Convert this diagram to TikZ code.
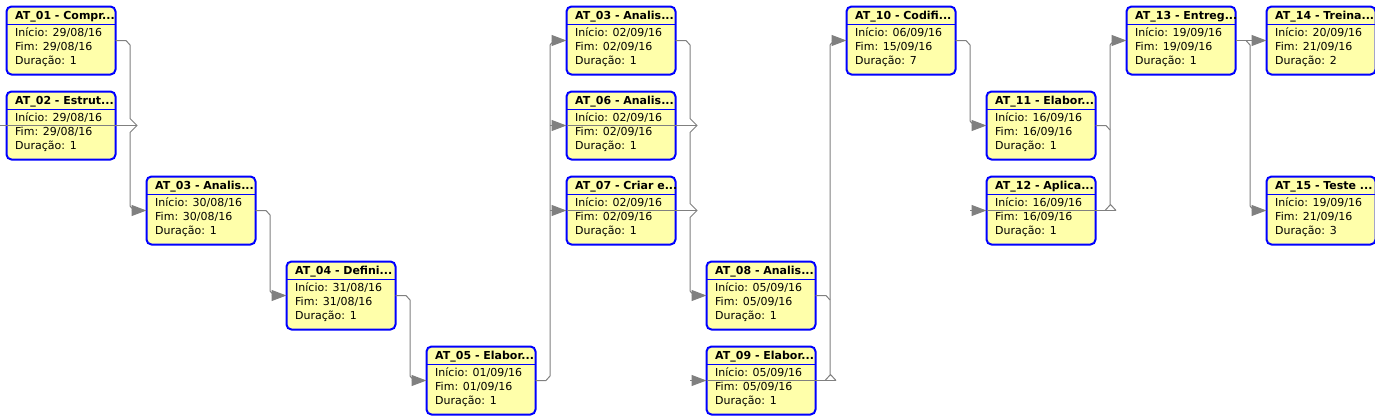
\documentclass[tikz,border=0pt]{standalone}
\usepackage{fontspec}
\setmainfont{DejaVu Sans}
\usetikzlibrary{arrows.meta,calc}
\definecolor{boxfill}{RGB}{255,255,170}
\definecolor{boxblue}{RGB}{0,0,255}
\definecolor{linegray}{RGB}{128,128,128}
\tikzset{
  actbox/.style={draw=boxblue, line width=2pt, fill=boxfill, rounded corners=5pt,
    minimum width=109pt, minimum height=68pt, inner sep=0pt, outer sep=0pt},
  acttitle/.style={anchor=base west, inner sep=0pt, font=\fontsize{11}{13}\selectfont\bfseries},
  acttext/.style={anchor=base west, inner sep=0pt, font=\fontsize{11}{13}\selectfont},
  sepline/.style={draw=boxblue, line width=1pt},
  conn/.style={draw=linegray, line width=1pt},
  arr/.style={conn, -{Triangle[length=15pt,width=11pt]}},
}
\newcommand{\actbox}[7]{%
  \node[actbox] (#1) at ({61+140*#2},{40.5+85*#3}) {};
  \draw[sepline] ($(#1.north west)+(0,17.5)$) -- ($(#1.north east)+(0,17.5)$);
  \node[acttitle] (#1-t) at ($(#1.north west)+(8.5,13)$) {#4};
  \node[acttext] (#1-a) at ($(#1.north west)+(8.5,30.2)$) {Início: #5};
  \node[acttext] (#1-b) at ($(#1.north west)+(8.5,44.2)$) {Fim: #6};
  \node[acttext] (#1-c) at ($(#1.north west)+(8.5,58.2)$) {Duração: #7};
}
\begin{document}
\begin{tikzpicture}[x=1pt,y=-1pt]
\useasboundingbox (0,0) rectangle (1375,415);
\actbox{n01}{0}{0}{AT\_01 - Compr...}{29/08/16}{29/08/16}{1}
\actbox{n02}{0}{1}{AT\_02 - Estrut...}{29/08/16}{29/08/16}{1}
\actbox{n03a}{1}{2}{AT\_03 - Analis...}{30/08/16}{30/08/16}{1}
\actbox{n04}{2}{3}{AT\_04 - Defini...}{31/08/16}{31/08/16}{1}
\actbox{n05}{3}{4}{AT\_05 - Elabor...}{01/09/16}{01/09/16}{1}
\actbox{n03b}{4}{0}{AT\_03 - Analis...}{02/09/16}{02/09/16}{1}
\actbox{n06}{4}{1}{AT\_06 - Analis...}{02/09/16}{02/09/16}{1}
\actbox{n07}{4}{2}{AT\_07 - Criar e...}{02/09/16}{02/09/16}{1}
\actbox{n08}{5}{3}{AT\_08 - Analis...}{05/09/16}{05/09/16}{1}
\actbox{n09}{5}{4}{AT\_09 - Elabor...}{05/09/16}{05/09/16}{1}
\actbox{n10}{6}{0}{AT\_10 - Codifi...}{06/09/16}{15/09/16}{7}
\actbox{n11}{7}{1}{AT\_11 - Elabor...}{16/09/16}{16/09/16}{1}
\actbox{n12}{7}{2}{AT\_12 - Aplica...}{16/09/16}{16/09/16}{1}
\actbox{n13}{8}{0}{AT\_13 - Entreg...}{19/09/16}{19/09/16}{1}
\actbox{n14}{9}{0}{AT\_14 - Treina...}{20/09/16}{21/09/16}{2}
\actbox{n15}{9}{2}{AT\_15 - Teste ...}{19/09/16}{21/09/16}{3}
% connectors
\draw[arr] (n01.east) -- (126,40.5) -- (130,45) -- (130,118.5) -- (137,125.5) -- (130,132.5) -- (130,206) -- (134,210.5) -- (n03a.west);
\draw[conn] (0,125.5) -- (n02.west) -- (n02.east) -- (137,125.5);
\draw[arr] (n03a.east) -- (266,210.5) -- (270,215) -- (270,291) -- (274,295.5) -- (n04.west);
\draw[arr] (n04.east) -- (406,295.5) -- (410,300) -- (410,376) -- (414,380.5) -- (n05.west);
\draw[arr] (n05.east) -- (546,380.5) -- (550,376) -- (550,45) -- (554,40.5) -- (n03b.west);
\draw[arr] (550,125.5) -- (n06.west);
\draw[arr] (550,210.5) -- (n07.west);
\draw[conn] (n06.west) -- (697,125.5);
\draw[conn] (n07.west) -- (697,210.5);
\draw[arr] (n03b.east) -- (686,40.5) -- (690,45) -- (690,118.5) -- (697,125.5) -- (690,132.5) -- (690,203.5) -- (697,210.5) -- (690,217.5) -- (690,291) -- (694,295.5) -- (n08.west);
\draw[arr] (690,380.5) -- (n09.west);
\draw[conn] (n09.west) -- (836,380.5);
\draw[conn] (n08.east) -- (826,295.5) -- (830,300);
\draw[arr] (830,374.5) -- (830,45) -- (834,40.5) -- (n10.west);
\draw[conn] (825,380.5) -- (830.5,374.5) -- (836,380.5);
\draw[arr] (n10.east) -- (966,40.5) -- (970,45) -- (970,121) -- (974,125.5) -- (n11.west);
\draw[arr] (970,210.5) -- (n12.west);
\draw[conn] (n12.west) -- (1116,210.5);
\draw[conn] (n11.east) -- (1106,125.5) -- (1110,130);
\draw[arr] (1110,204.5) -- (1110,45) -- (1114,40.5) -- (n13.west);
\draw[conn] (1105,210.5) -- (1110.5,204.5) -- (1116,210.5);
\draw[arr] (n13.east) -- (n14.west);
\draw[arr] (1246,40.5) -- (1250,45) -- (1250,206) -- (1254,210.5) -- (n15.west);
\end{tikzpicture}
\end{document}
